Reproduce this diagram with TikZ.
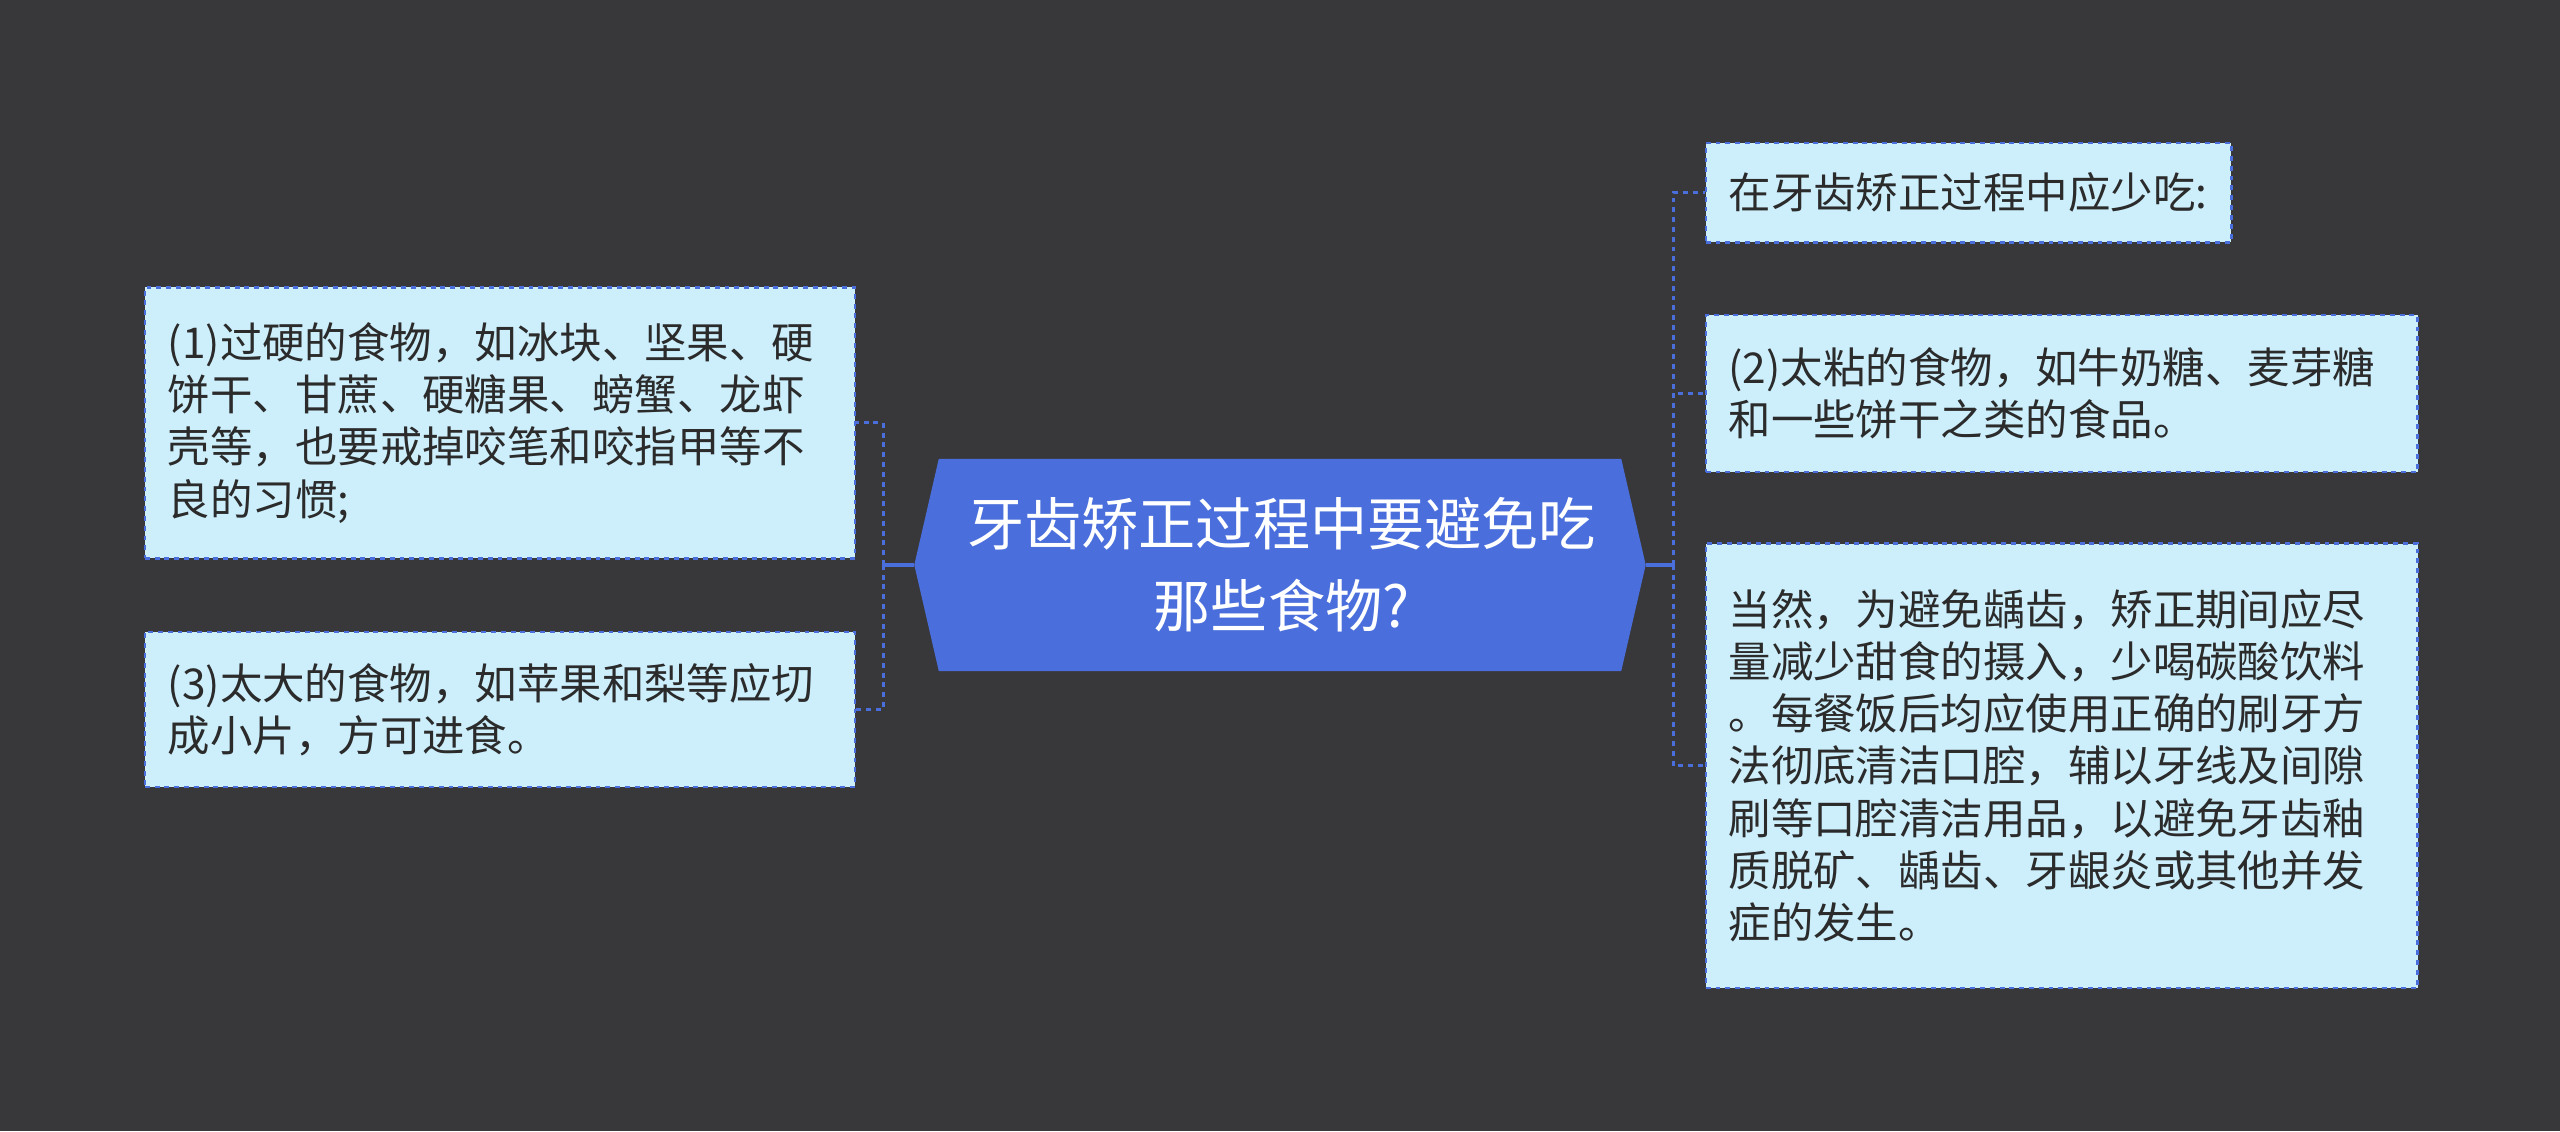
\documentclass[tikz,border=0pt]{standalone}
\usepackage{fontspec}
\setmainfont{Noto Sans CJK SC}
\definecolor{bg}{HTML}{38373A}
\definecolor{blu}{HTML}{4A6FDC}
\definecolor{boxf}{HTML}{CDEFFC}
\definecolor{txt}{HTML}{2B2B2B}
\begin{document}
\begin{tikzpicture}[x=1pt,y=-1pt,
 leaf/.style={draw=blu,dashed,line width=1.5pt,fill=boxf,anchor=west,align=left,inner xsep=14pt,inner ysep=0pt,text=txt,font=\fontsize{26}{32}\selectfont},
 conn/.style={draw=blu,line width=2pt,dashed},
 stub/.style={draw=blu,line width=2pt}]
\fill[bg] (0,0) rectangle (1568,693);
\useasboundingbox (0,0) rectangle (1568,693);
\fill[blu] (575,281) -- (993,281) -- (1008,346) -- (993,411) -- (575,411) -- (560,346) -- cycle;
\node[text=white,align=center,font=\fontsize{35}{50}\selectfont] (c) at (785,346) {牙齿矫正过程中要避免吃\\那些食物?};
\coordinate (cl) at (560,346);
\coordinate (cr) at (1008,346);
\coordinate (jl) at (541,346);
\coordinate (jr) at (1025,346);
\node[leaf,text width=407pt,minimum height=166pt] (b1) at (88,259) {(1)过硬的食物，如冰块、坚果、硬\\饼干、甘蔗、硬糖果、螃蟹、龙虾\\壳等，也要戒掉咬笔和咬指甲等不\\良的习惯;};
\node[leaf,text width=407pt,minimum height=95pt] (b2) at (88,434.5) {(3)太大的食物，如苹果和梨等应切\\成小片，方可进食。};
\node[leaf,text width=294pt,minimum height=61pt] (r1) at (1044,118) {在牙齿矫正过程中应少吃:};
\node[leaf,text width=408pt,minimum height=96pt] (r2) at (1044,241) {(2)太粘的食物，如牛奶糖、麦芽糖\\和一些饼干之类的食品。};
\node[leaf,text width=408pt,minimum height=272pt] (r3) at (1044,469) {当然，为避免龋齿，矫正期间应尽\\量减少甜食的摄入，少喝碳酸饮料\\。每餐饭后均应使用正确的刷牙方\\法彻底清洁口腔，辅以牙线及间隙\\刷等口腔清洁用品，以避免牙齿釉\\质脱矿、龋齿、牙龈炎或其他并发\\症的发生。};
\draw[stub] (cl) -- (jl);
\draw[stub] (cr) -- (jr);
\draw[conn] (jl) |- (b1.east);
\draw[conn] (jl) |- (b2.east);
\draw[conn] (jr) |- (r1.west);
\draw[conn] (jr) |- (r2.west);
\draw[conn] (jr) |- (r3.west);
\end{tikzpicture}
\end{document}
